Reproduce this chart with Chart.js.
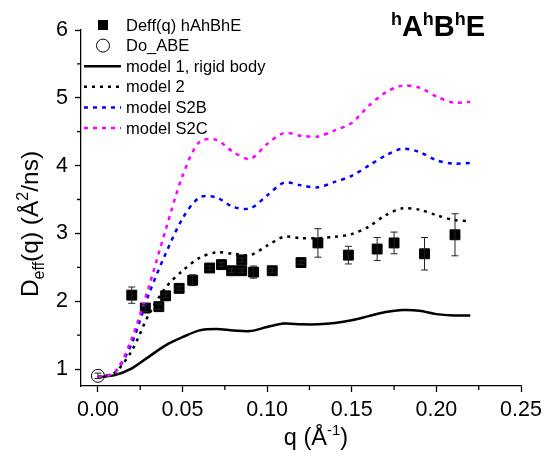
<!DOCTYPE html>
<html lang="en">
<head>
<meta charset="UTF-8">
<title>Deff(q) hAhBhE</title>
<script src="https://cdn.jsdelivr.net/npm/chart.js"></script>
<style>
  * { margin: 0; padding: 0; box-sizing: border-box; }
  body { background: #fff; width: 548px; height: 459px; overflow: hidden; }
  .chart-box { position: relative; width: 548px; height: 459px; }
</style>
</head>
<body>
<div class="chart-box"><canvas id="deffChart" width="548" height="459"></canvas></div>
<script>
  // measured points
  const qData = [0.020, 0.028, 0.036, 0.040, 0.048, 0.056, 0.066, 0.073, 0.079, 0.085, 0.085, 0.092, 0.103, 0.120, 0.130, 0.148, 0.165, 0.175, 0.193, 0.211];
  const deffData = [2.09, 1.90, 1.92, 2.08, 2.19, 2.31, 2.49, 2.54, 2.45, 2.61, 2.45, 2.43, 2.45, 2.57, 2.86, 2.68, 2.77, 2.86, 2.70, 2.98];
  const deffErr = [0.12, 0.05, 0.04, 0.03, 0.03, 0.08, 0.03, 0.03, 0.03, 0.03, 0.03, 0.09, 0.03, 0.03, 0.21, 0.13, 0.17, 0.16, 0.24, 0.31];
  const qDo = [0];
  const dDo = [0.90];
  const dDoErr = [0.04];

  // model curves
  const qModel = [0, 0.01, 0.02, 0.03, 0.04, 0.05, 0.06, 0.07, 0.08, 0.09, 0.10, 0.11, 0.12, 0.13, 0.14, 0.15, 0.16, 0.17, 0.18, 0.19, 0.20, 0.21, 0.22];
  const model1 = [0.88, 0.91, 1.01, 1.18, 1.35, 1.47, 1.57, 1.59, 1.57, 1.56, 1.62, 1.67, 1.66, 1.66, 1.68, 1.72, 1.78, 1.84, 1.87, 1.86, 1.81, 1.79, 1.79];
  const model2 = [0.88, 0.95, 1.27, 1.80, 2.20, 2.45, 2.64, 2.72, 2.70, 2.68, 2.82, 2.95, 2.93, 2.93, 2.95, 2.99, 3.10, 3.27, 3.37, 3.35, 3.27, 3.20, 3.18];
  const modelS2B = [0.88, 0.95, 1.38, 2.10, 2.70, 3.22, 3.53, 3.53, 3.39, 3.37, 3.56, 3.75, 3.71, 3.68, 3.76, 3.85, 4.00, 4.15, 4.25, 4.20, 4.08, 4.03, 4.04];
  const modelS2C = [0.88, 0.95, 1.45, 2.21, 3.05, 3.85, 4.35, 4.38, 4.20, 4.10, 4.32, 4.48, 4.44, 4.43, 4.52, 4.63, 4.88, 5.08, 5.18, 5.15, 5.02, 4.93, 4.94];

  const xTicks = [0, 0.05, 0.10, 0.15, 0.20, 0.25];
  const xMinor = [0.025, 0.075, 0.125, 0.175, 0.225];
  const yTicks = [1, 2, 3, 4, 5, 6];
  const yMinor = [1.5, 2.5, 3.5, 4.5, 5.5];

  const FONT = "'Liberation Sans', Arial, sans-serif";

  function pts(xs, ys) {
    return xs.map((x, i) => ({ x: x, y: ys[i] }));
  }

  // draws text made of pieces (sub/superscripts), centred on cx
  function drawRich(ctx, parts, cx, baseY) {
    let total = 0;
    parts.forEach(p => {
      ctx.font = (p.bold ? 'bold ' : '') + p.size + 'px ' + FONT;
      p.w = ctx.measureText(p.t).width;
      total += p.w;
    });
    let x = cx - total / 2;
    ctx.textAlign = 'left';
    ctx.textBaseline = 'alphabetic';
    parts.forEach(p => {
      ctx.font = (p.bold ? 'bold ' : '') + p.size + 'px ' + FONT;
      ctx.fillText(p.t, x, baseY + (p.dy || 0));
      x += p.w;
    });
  }

  const errorBars = {
    id: 'errorBars',
    afterDatasetsDraw(chart) {
      const ctx = chart.ctx;
      const xs = chart.scales.x, ys = chart.scales.y;
      ctx.save();
      chart.data.datasets.forEach(ds => {
        if (!ds.errors) return;
        ctx.strokeStyle = '#222';
        ctx.lineWidth = 1;
        ds.data.forEach((p, i) => {
          const px = xs.getPixelForValue(p.x);
          const top = ys.getPixelForValue(p.y + ds.errors[i]);
          const bot = ys.getPixelForValue(p.y - ds.errors[i]);
          ctx.beginPath();
          ctx.moveTo(px, top); ctx.lineTo(px, bot);
          ctx.moveTo(px - 3.5, top); ctx.lineTo(px + 3.5, top);
          ctx.moveTo(px - 3.5, bot); ctx.lineTo(px + 3.5, bot);
          ctx.stroke();
        });
      });
      ctx.restore();
    }
  };

  const decorations = {
    id: 'decorations',
    afterDraw(chart) {
      const ctx = chart.ctx;
      const xs = chart.scales.x, ys = chart.scales.y;
      const area = chart.chartArea;
      ctx.save();

      // minor ticks
      ctx.strokeStyle = '#000';
      ctx.lineWidth = 1.3;
      ctx.beginPath();
      xMinor.forEach(v => {
        const px = xs.getPixelForValue(v);
        ctx.moveTo(px, area.bottom); ctx.lineTo(px, area.bottom + 4);
      });
      yMinor.forEach(v => {
        const py = ys.getPixelForValue(v);
        ctx.moveTo(area.left, py); ctx.lineTo(area.left - 4, py);
      });
      ctx.stroke();

      ctx.fillStyle = '#000';
      // title
      drawRich(ctx, [
        { t: 'h', size: 18, bold: true, dy: -11 },
        { t: 'A', size: 29, bold: true },
        { t: 'h', size: 18, bold: true, dy: -11 },
        { t: 'B', size: 29, bold: true },
        { t: 'h', size: 18, bold: true, dy: -11 },
        { t: 'E', size: 29, bold: true }
      ], 438, 36);

      // x axis title
      drawRich(ctx, [
        { t: 'q (Å', size: 23.5 },
        { t: '-1', size: 15, dy: -10 },
        { t: ')', size: 23.5 }
      ], (area.left + area.right) / 2 + 15, 445);

      // y axis title
      ctx.save();
      ctx.translate(38, 224);
      ctx.rotate(-Math.PI / 2);
      drawRich(ctx, [
        { t: 'D', size: 24.5 },
        { t: 'eff', size: 16, dy: 6 },
        { t: '(q) (Å', size: 24.5 },
        { t: '2', size: 16, dy: -10 },
        { t: '/ns)', size: 24.5 }
      ], 0, 0);
      ctx.restore();

      // legend
      const lx0 = 84, lx1 = 121, tx = 126;
      chart.data.datasets.forEach((ds, i) => {
        const y = 25 + i * 20.6;
        if (ds.showLine) {
          ctx.save();
          ctx.strokeStyle = ds.borderColor;
          ctx.lineWidth = ds.borderWidth;
          ctx.setLineDash(ds.borderDash || []);
          ctx.beginPath();
          ctx.moveTo(lx0, y); ctx.lineTo(lx1, y);
          ctx.stroke();
          ctx.restore();
        } else if (ds.pointStyle === 'rect') {
          ctx.fillStyle = '#000';
          ctx.fillRect(98, y - 5, 10, 10);
        } else {
          ctx.beginPath();
          ctx.arc(103, y, 6.5, 0, Math.PI * 2);
          ctx.fillStyle = '#fff';
          ctx.fill();
          ctx.strokeStyle = '#000';
          ctx.lineWidth = 1;
          ctx.stroke();
        }
        ctx.fillStyle = '#000';
        ctx.font = '16.5px ' + FONT;
        ctx.textAlign = 'left';
        ctx.textBaseline = 'middle';
        ctx.fillText(ds.label, tx, y + 1);
      });
      ctx.restore();
    }
  };

  const lineSet = (label, ys, color, dash, order) => ({
    label: label,
    data: pts(qModel, ys),
    showLine: true,
    borderColor: color,
    borderWidth: 2.5,
    borderDash: dash,
    pointRadius: 0,
    tension: 0.3,
    fill: false,
    order: order
  });

  new Chart(document.getElementById('deffChart'), {
    type: 'scatter',
    data: {
      datasets: [
        {
          label: 'Deff(q) hAhBhE',
          data: pts(qData, deffData),
          errors: deffErr,
          pointStyle: 'rect',
          pointRadius: 7,
          backgroundColor: '#000',
          borderColor: '#000',
          borderWidth: 1,
          order: 10
        },
        {
          label: 'Do_ABE',
          data: pts(qDo, dDo),
          errors: dDoErr,
          pointStyle: 'circle',
          pointRadius: 6.5,
          backgroundColor: '#fff',
          borderColor: '#000',
          borderWidth: 1,
          order: 9
        },
        lineSet('model 1, rigid body', model1, '#000', [], 4),
        lineSet('model 2', model2, '#000', [3, 5], 3),
        lineSet('model S2B', modelS2B, '#0000ff', [4, 5], 2),
        lineSet('model S2C', modelS2C, '#ff00ff', [4, 5], 1)
      ]
    },
    options: {
      responsive: false,
      animation: false,
      events: [],
      layout: { padding: { top: 30, right: 27, left: 0, bottom: 0 } },
      plugins: {
        legend: { display: false },
        tooltip: { enabled: false }
      },
      scales: {
        x: {
          type: 'linear',
          min: -0.01,
          max: 0.25,
          afterBuildTicks: s => { s.ticks = xTicks.map(v => ({ value: v })); },
          afterFit: s => { s.height = 73; },
          ticks: {
            color: '#000',
            font: { family: FONT, size: 21.5 },
            padding: 5,
            maxRotation: 0,
            callback: v => v.toFixed(2)
          },
          grid: { drawOnChartArea: false, tickLength: 6, tickColor: '#000', tickWidth: 1.3 },
          border: { color: '#000', width: 1.3 }
        },
        y: {
          min: 0.75,
          max: 6,
          afterBuildTicks: s => { s.ticks = yTicks.map(v => ({ value: v })); },
          afterFit: s => { s.width = 81; },
          ticks: {
            color: '#000',
            font: { family: FONT, size: 21.5 },
            padding: 7,
            callback: v => v
          },
          grid: { drawOnChartArea: false, tickLength: 6, tickColor: '#000', tickWidth: 1.3 },
          border: { color: '#000', width: 1.3 }
        }
      }
    },
    plugins: [errorBars, decorations]
  });
</script>
</body>
</html>
